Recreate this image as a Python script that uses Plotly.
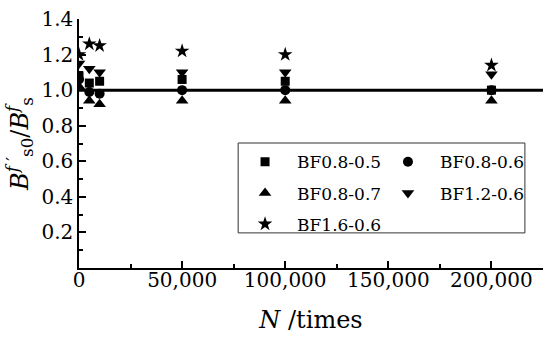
import plotly.graph_objects as go

BLACK = "#000000"
FONT = "DejaVu Serif"

cycles = [0, 5000, 10000, 50000, 100000, 200000]

bf_08_05 = [1.08, 1.04, 1.05, 1.06, 1.05, 1.00]
bf_08_06 = [1.06, 0.99, 0.98, 1.00, 1.00, 1.00]
bf_08_07 = [1.02, 0.94, 0.92, 0.94, 0.94, 0.94]
bf_12_06 = [1.15, 1.12, 1.10, 1.10, 1.10, 1.09]
bf_16_06 = [1.20, 1.26, 1.25, 1.22, 1.20, 1.14]

series = [
    ("BF0.8-0.5", bf_08_05, "square", 9, "legend"),
    ("BF0.8-0.6", bf_08_06, "circle", 10, "legend2"),
    ("BF0.8-0.7", bf_08_07, "triangle-up", 11, "legend"),
    ("BF1.2-0.6", bf_12_06, "triangle-down", 11, "legend2"),
    ("BF1.6-0.6", bf_16_06, "star", 11, "legend"),
]

y_ticks = [0.2, 0.4, 0.6, 0.8, 1.0, 1.2, 1.4]
x_ticks = [0, 50000, 100000, 150000, 200000]

fig = go.Figure()
for name, vals, sym, size, leg in series:
    fig.add_trace(go.Scatter(
        x=cycles, y=vals, mode="markers", name=name, legend=leg, legendgroup=name,
        marker=dict(symbol=sym, size=size, color=BLACK, line_width=0),
    ))

legend_style = dict(
    bgcolor="rgba(0,0,0,0)", borderwidth=0,
    font=dict(family=FONT, size=17, color=BLACK),
    xanchor="left", yanchor="top", orientation="v", itemwidth=54,
    traceorder="grouped", tracegroupgap=6,
)

fig.update_layout(
    width=550, height=337,
    plot_bgcolor="white", paper_bgcolor="white",
    font=dict(family=FONT, size=20, color=BLACK),
    margin=dict(t=19, b=69, l=79, r=7),
    legend=dict(x=0.332, y=0.497, **legend_style),
    legend2=dict(x=0.64, y=0.497, **legend_style),
)

# legend frame around both legend columns
fig.add_shape(type="rect", xref="paper", yref="paper",
              x0=0.343, x1=0.961, y0=0.141, y1=0.502,
              line=dict(color="#333333", width=1))
fig.add_hline(y=1.0, line=dict(color=BLACK, width=3))

fig.update_xaxes(
    range=[0, 225000], tickvals=x_ticks, tickformat=",",
    showline=True, linecolor=BLACK, linewidth=1.5, mirror=False,
    ticks="inside", ticklen=7, tickwidth=1.5, tickcolor=BLACK,
    minor=dict(dtick=25000, ticks="inside", ticklen=4, tickwidth=1.5, tickcolor=BLACK),
    showgrid=False, zeroline=False, ticklabelstandoff=-7,
    title=dict(text="<i>N</i> /times", standoff=20),
)
fig.update_yaxes(
    range=[0, 1.4], tickvals=y_ticks, tickformat=".1f",
    showline=True, linecolor=BLACK, linewidth=1.5, mirror=False,
    ticks="inside", ticklen=7, tickwidth=1.5, tickcolor=BLACK,
    minor=dict(dtick=0.1, ticks="inside", ticklen=4, tickwidth=1.5, tickcolor=BLACK),
    showgrid=False, zeroline=False,
    title=dict(text="<i>B</i><sup><i>f</i> ′</sup><sub>s0</sub>/<i>B</i><sup><i>f</i></sup><sub>s</sub>",
               standoff=6),
)

fig.write_html("out.html", config={"displayModeBar": False},
               post_script="document.body.style.margin='0px';")
